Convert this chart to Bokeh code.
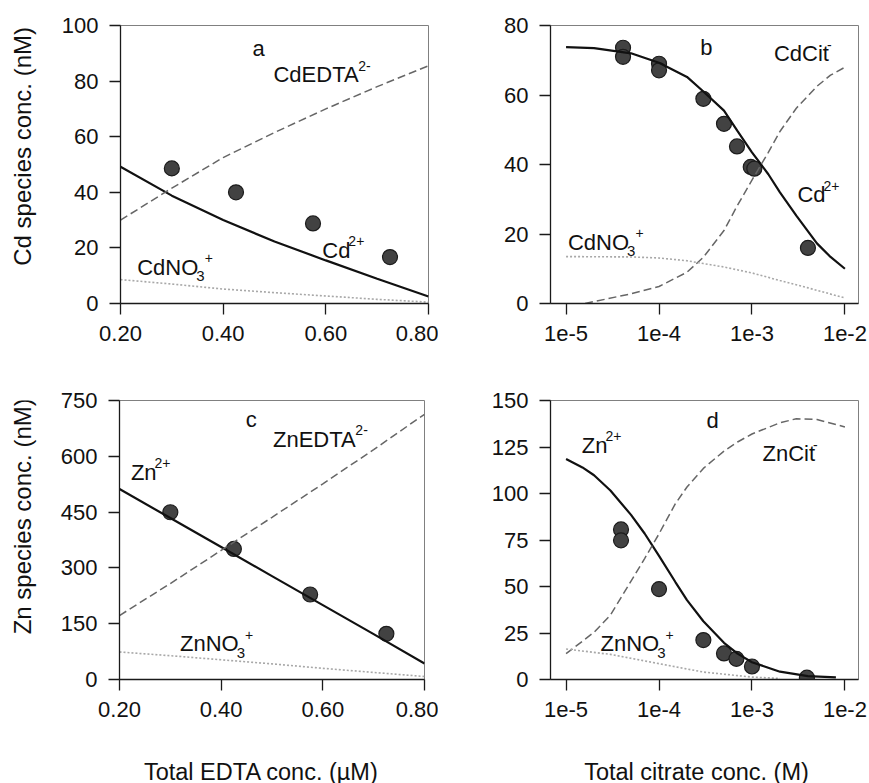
import math
from bokeh.plotting import figure
from bokeh.models import Label, Range1d, FixedTicker
from bokeh.layouts import column, row
from bokeh.embed import file_html
from bokeh.resources import INLINE

FONT = "Liberation Sans"

# ---------------- data ----------------
# Panel a / c : EDTA series (x in µM)
edta_ticks = [0.2, 0.4, 0.6, 0.8]
edta_tick_labels = ["0.20", "0.40", "0.60", "0.80"]
edta_meas = [0.30, 0.425, 0.575, 0.725]
cd_meas_a = [48.6, 40.0, 28.8, 16.7]
zn_meas_c = [449.6, 351.0, 228.5, 122.8]

edta_model = [0.2, 0.3, 0.4, 0.5, 0.6, 0.7, 0.8]
cd_free_a = [49.2, 38.8, 30.0, 22.3, 15.5, 8.9, 2.5]
cd_edta_a = [30.0, 41.5, 52.5, 61.5, 70.0, 78.0, 85.5]
cd_no3_a = [8.6, 7.0, 5.2, 3.9, 2.7, 1.5, 0.5]

zn_free_c = [512, 434, 356, 278, 200, 122, 43]
zn_edta_c = [172, 258, 347, 436, 526, 618, 713]
zn_no3_c = [74, 64, 53, 42, 30, 19, 8]

# Panel b / d : citrate series (x in M)
cit_ticks = [1e-5, 1e-4, 1e-3, 1e-2]
cit_tick_labels = ["1e-5", "1e-4", "1e-3", "1e-2"]

cit_meas_b = [4.1e-5, 4.1e-5, 1.0e-4, 1.0e-4, 3.0e-4, 5.0e-4, 6.9e-4, 0.97e-3, 1.06e-3, 4.0e-3]
cd_meas_b = [73.6, 71.0, 69.0, 67.1, 58.9, 51.7, 45.2, 39.3, 38.8, 16.0]

cit_free_b = [1e-5, 2e-5, 5e-5, 1e-4, 2e-4, 3e-4, 5e-4, 7e-4, 1e-3, 1.5e-3, 2e-3, 3e-3, 5e-3, 7e-3, 1e-2]
cd_free_b = [73.8, 73.5, 72.0, 69.3, 65.2, 61.0, 55.5, 49.6, 43.5, 37.2, 32.0, 25.3, 17.3, 13.4, 10.0]
cit_cdcit_b = [1.6e-5, 5e-5, 1e-4, 2e-4, 3e-4, 5e-4, 7e-4, 1e-3, 1.5e-3, 2e-3, 3e-3, 5e-3, 7e-3, 1e-2]
cd_cit_b = [0.0, 2.8, 4.9, 9.0, 13.3, 21.0, 28.3, 35.5, 43.5, 49.5, 56.2, 62.5, 65.7, 68.0]
cit_no3_b = [1e-5, 5e-5, 1e-4, 2e-4, 3e-4, 5e-4, 1e-3, 2e-3, 4e-3, 1e-2]
cd_no3_b = [13.5, 13.4, 13.1, 12.3, 11.5, 10.5, 8.8, 6.6, 4.5, 1.6]

cit_meas_d = [3.9e-5, 3.9e-5, 1.0e-4, 3.0e-4, 5.0e-4, 6.8e-4, 1.0e-3, 3.9e-3]
zn_meas_d = [80.7, 74.8, 48.6, 21.2, 14.0, 11.1, 7.0, 1.0]

cit_free_d = [1e-5, 1.5e-5, 2e-5, 3e-5, 5e-5, 7e-5, 1e-4, 1.5e-4, 2e-4, 3e-4, 5e-4, 7e-4, 1e-3, 2e-3, 4e-3, 8e-3]
zn_free_d = [118.5, 114.0, 109.8, 101.6, 88.5, 78.5, 66.5, 52.4, 42.7, 31.3, 19.7, 13.9, 9.3, 4.2, 1.8, 1.1]
cit_zncit_d = [1e-5, 1.5e-5, 2e-5, 3e-5, 5e-5, 7e-5, 1e-4, 1.5e-4, 2e-4, 3e-4, 5e-4, 7e-4, 1e-3, 2e-3, 3e-3, 5e-3, 1e-2]
zn_cit_d = [13.9, 20.6, 25.4, 34.6, 52.9, 65.0, 78.3, 94.5, 103.5, 113.5, 122.8, 127.7, 132.0, 138.0, 140.2, 139.8, 135.8]
cit_no3_d = [1e-5, 3e-5, 1e-4, 3e-4, 1e-3, 2e-3]
zn_no3_d = [16.4, 13.5, 8.5, 4.0, 1.3, 0.6]

# ---------------- styling helpers ----------------
CHAR_W = {'A': .667, 'C': .722, 'D': .722, 'E': .667, 'N': .722, 'O': .778, 'T': .611,
          'Z': .611, 'M': .833, 'a': .556, 'b': .556, 'c': .5, 'd': .556, 'e': .556,
          'i': .222, 'l': .222, 'n': .556, 'o': .556, 'p': .556, 'r': .333, 's': .5,
          't': .278, ' ': .278, '.': .278, '(': .333, ')': .333, '+': .584, '-': .333}


def text_w(s, size):
    return sum(CHAR_W.get(ch, .556) for ch in s) * size


def make_fig(width, height, left, right, top, bottom, xr, yr, log=False):
    p = figure(width=width, height=height, x_range=xr, y_range=yr,
               x_axis_type="log" if log else "linear", title=None,
               output_backend="svg", toolbar_location=None,
               min_border_left=left, min_border_right=right,
               min_border_top=top, min_border_bottom=bottom)
    p.grid.visible = False
    p.outline_line_color = "#808080"
    p.outline_line_width = 1
    p.background_fill_color = "white"
    p.border_fill_color = "white"
    for ax in (p.xaxis[0], p.yaxis[0]):
        ax.axis_line_color = "#1a1a1a"
        ax.axis_line_width = 1.3
        ax.major_tick_out = 11
        ax.major_tick_in = 0
        ax.major_tick_line_color = "#1a1a1a"
        ax.major_tick_line_width = 1.3
        ax.minor_tick_line_color = None
        ax.major_label_text_font = FONT
        ax.major_label_text_font_size = "22px"
        ax.major_label_text_color = "#111111"
        ax.major_label_standoff = 11
    return p


def make_strip(width, height):
    s = figure(width=width, height=height, x_range=Range1d(0, width),
               y_range=Range1d(0, height), title=None, output_backend="svg",
               toolbar_location=None, x_axis_location=None, y_axis_location=None,
               min_border=0)
    s.grid.visible = False
    s.outline_line_color = None
    s.background_fill_color = "white"
    s.border_fill_color = "white"
    return s


def add_lines(p, x1, y1, x2, y2, x3, y3):
    p.line(x1, y1, line_color="#111111", line_width=2.2)
    p.line(x2, y2, line_color="#666666", line_width=1.5, line_dash="8 4")
    p.line(x3, y3, line_color="#a8a8a8", line_width=1.6, line_dash="2 2")


def add_points(p, x, y):
    p.scatter(x, y, marker="circle", size=15, fill_color="#424242",
              line_color="#1c1c1c", line_width=1.2)


def rich(p, x, y, base, sub=None, sup=None, size=22):
    p.add_layout(Label(x=x, y=y, text=base, text_font=FONT, text_font_size=f"{size}px",
                       text_baseline="middle", text_align="left", text_color="#111111"))
    w = text_w(base, size) - 2
    if sub:
        p.add_layout(Label(x=x, y=y, text=sub, x_offset=w, y_offset=-9, text_font=FONT,
                           text_font_size="15px", text_baseline="middle",
                           text_align="left", text_color="#111111"))
        w += text_w(sub, 15)
    if sup:
        p.add_layout(Label(x=x, y=y, text=sup, x_offset=w, y_offset=9, text_font=FONT,
                           text_font_size="14px", text_baseline="middle",
                           text_align="left", text_color="#111111"))


def letter(p, x, y, t):
    p.add_layout(Label(x=x, y=y, text=t, text_font=FONT, text_font_size="22px",
                       text_baseline="middle", text_align="center", text_color="#111111"))


def strip_label(s, x, y, t, size, angle=0.0):
    s.add_layout(Label(x=x, y=y, text=t, angle=angle, text_font=FONT, text_font_size=size,
                       text_baseline="middle", text_align="center", text_color="#111111"))


XLOG = (6.8e-6, 1.4e-2)
TOP_H = 368
BOT_H = 371
STRIP_H = 44

# ---------------- panel a ----------------
pa = make_fig(398, TOP_H, 80, 10, 25, 61, Range1d(0.2, 0.8), Range1d(0, 100))
pa.xaxis.ticker = FixedTicker(ticks=edta_ticks)
pa.xaxis.major_label_overrides = dict(zip(edta_ticks, edta_tick_labels))
pa.yaxis.ticker = FixedTicker(ticks=[0, 20, 40, 60, 80, 100])
add_points(pa, edta_meas, cd_meas_a)
add_lines(pa, edta_model, cd_free_a, edta_model, cd_edta_a, edta_model, cd_no3_a)
letter(pa, 0.469, 91.8, "a")
rich(pa, 0.498, 82.3, "CdEDTA", sup="2-")
rich(pa, 0.593, 19.1, "Cd", sup="2+")
rich(pa, 0.2325, 13.1, "CdNO", sub="3", sup="+")

ya = make_strip(40, TOP_H)
strip_label(ya, 22, TOP_H - 160, "Cd species conc. (nM)", "24px", math.pi / 2)

# ---------------- panel b ----------------
pb = make_fig(429, TOP_H, 112, 9, 25, 65, Range1d(*XLOG), Range1d(0, 80), log=True)
pb.xaxis.ticker = FixedTicker(ticks=cit_ticks)
pb.xaxis.major_label_overrides = dict(zip(cit_ticks, cit_tick_labels))
pb.yaxis.ticker = FixedTicker(ticks=[0, 20, 40, 60, 80])
add_points(pb, cit_meas_b, cd_meas_b)
add_lines(pb, cit_free_b, cd_free_b, cit_cdcit_b, cd_cit_b, cit_no3_b, cd_no3_b)
letter(pb, 10 ** -3.49, 73.8, "b")
rich(pb, 10 ** -2.764, 71.8, "CdCit", sup="-")
rich(pb, 10 ** -2.511, 31.3, "Cd", sup="2+")
rich(pb, 10 ** -4.98, 17.6, "CdNO", sub="3", sup="+")

# ---------------- panel c ----------------
pc = make_fig(398, BOT_H, 79, 14, 32, 60, Range1d(0.2, 0.8), Range1d(0, 750))
pc.xaxis.ticker = FixedTicker(ticks=edta_ticks)
pc.xaxis.major_label_overrides = dict(zip(edta_ticks, edta_tick_labels))
pc.yaxis.ticker = FixedTicker(ticks=[0, 150, 300, 450, 600, 750])
add_points(pc, edta_meas, zn_meas_c)
add_lines(pc, edta_model, zn_free_c, edta_model, zn_edta_c, edta_model, zn_no3_c)
letter(pc, 0.459, 700, "c")
rich(pc, 0.502, 646, "ZnEDTA", sup="2-")
rich(pc, 0.2224, 557, "Zn", sup="2+")
rich(pc, 0.319, 96.5, "ZnNO", sub="3", sup="+")

yc = make_strip(40, BOT_H)
strip_label(yc, 22, BOT_H - (522 - TOP_H), "Zn species conc. (nM)", "24px", math.pi / 2)

# ---------------- panel d ----------------
pd_ = make_fig(429, BOT_H, 112, 9, 31, 60, Range1d(*XLOG), Range1d(0, 150), log=True)
pd_.xaxis.ticker = FixedTicker(ticks=cit_ticks)
pd_.xaxis.major_label_overrides = dict(zip(cit_ticks, cit_tick_labels))
pd_.yaxis.ticker = FixedTicker(ticks=[0, 25, 50, 75, 100, 125, 150])
add_points(pd_, cit_meas_d, zn_meas_d)
add_lines(pd_, cit_free_d, zn_free_d, cit_zncit_d, zn_cit_d, cit_no3_d, zn_no3_d)
letter(pd_, 10 ** -3.424, 139.3, "d")
rich(pd_, 10 ** -2.887, 121.5, "ZnCit", sup="-")
rich(pd_, 10 ** -4.831, 126, "Zn", sup="2+")
rich(pd_, 10 ** -4.63, 19.2, "ZnNO", sub="3", sup="+")

# ---------------- x-axis titles strip ----------------
xs = make_strip(867, STRIP_H)
strip_label(xs, 261, 12, "Total EDTA conc. (µM)", "23.5px")
strip_label(xs, 696, 12, "Total citrate conc. (M)", "23.5px")

layout = column(row(ya, pa, pb), row(yc, pc, pd_), xs)
open("out.html", "w").write(file_html(layout, INLINE))
